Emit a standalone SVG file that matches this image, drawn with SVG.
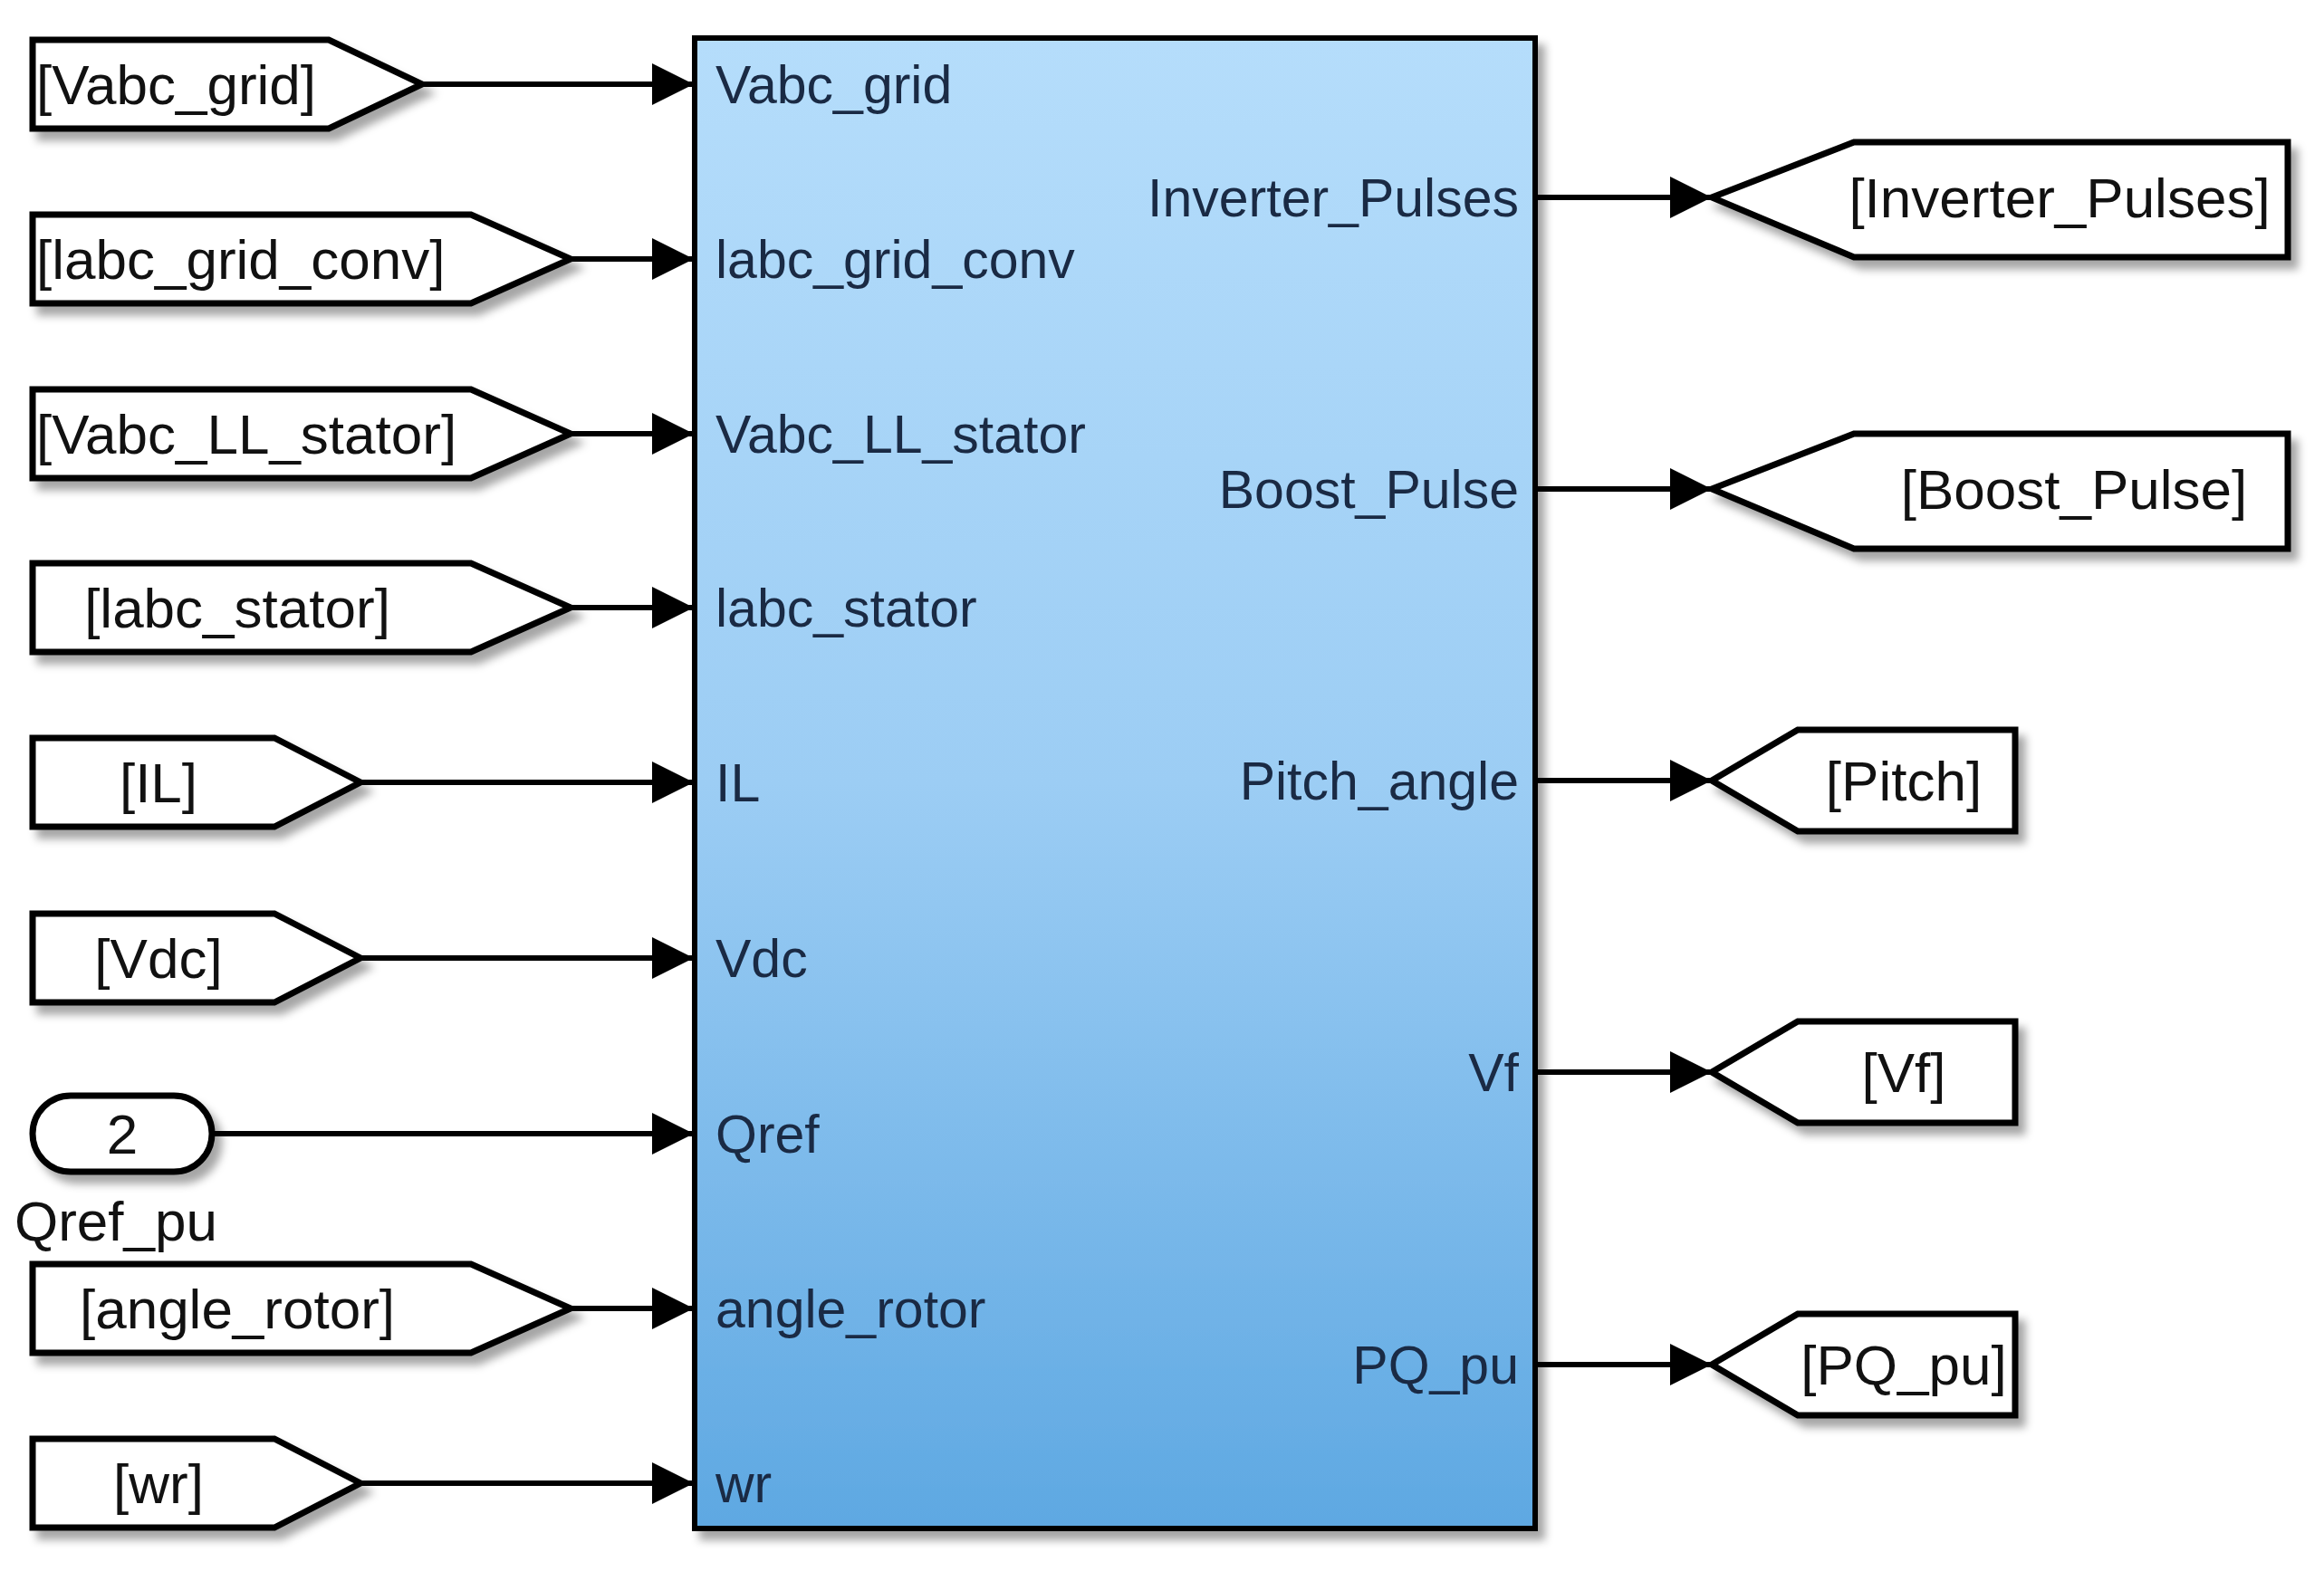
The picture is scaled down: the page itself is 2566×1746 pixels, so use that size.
<svg xmlns="http://www.w3.org/2000/svg" width="2566" height="1746" viewBox="0 0 2566 1746">
<defs>
<linearGradient id="bg" x1="0" y1="0" x2="0" y2="1"><stop offset="0" stop-color="#b5ddfb"/><stop offset="0.5" stop-color="#9ccdf4"/><stop offset="1" stop-color="#5ea8e2"/></linearGradient>
<filter id="sh" x="-10%" y="-10%" width="130%" height="140%"><feDropShadow dx="8" dy="10" stdDeviation="5" flood-color="#000" flood-opacity="0.35"/></filter>
<marker id="ar" viewBox="0 0 10 10" refX="10" refY="5" markerWidth="46" markerHeight="50" markerUnits="userSpaceOnUse" orient="auto"><path d="M0,0 L10,5 L0,10 z" fill="#000"/></marker>
</defs>
<style>
.tag{fill:#fff;stroke:#000;stroke-width:7;filter:url(#sh)}
.tt{font-family:"Liberation Sans",Arial,sans-serif;font-size:62px;fill:#111}
.pl{font-family:"Liberation Sans",Arial,sans-serif;font-size:59px;fill:#1a2a44}
.ln{stroke:#000;stroke-width:6;fill:none;marker-end:url(#ar)}
</style>
<rect width="2566" height="1746" fill="#fff"/>
<g id="block">
<rect x="767" y="42" width="928" height="1646" fill="url(#bg)" stroke="#000" stroke-width="6" filter="url(#sh)"/>
<text class="pl" x="790" y="114">Vabc_grid</text>
<text class="pl" x="790" y="307">labc_grid_conv</text>
<text class="pl" x="790" y="500">Vabc_LL_stator</text>
<text class="pl" x="790" y="692">labc_stator</text>
<text class="pl" x="790" y="885">IL</text>
<text class="pl" x="790" y="1079">Vdc</text>
<text class="pl" x="790" y="1273">Qref</text>
<text class="pl" x="790" y="1466">angle_rotor</text>
<text class="pl" x="790" y="1659">wr</text>
<g text-anchor="end">
<text class="pl" x="1677" y="239">Inverter_Pulses</text>
<text class="pl" x="1677" y="561">Boost_Pulse</text>
<text class="pl" x="1677" y="883">Pitch_angle</text>
<text class="pl" x="1677" y="1205">Vf</text>
<text class="pl" x="1677" y="1528">PQ_pu</text>
</g>
</g>
<g id="in1"><path class="tag" d="M36,44 H363 L466,93 L363,142 H36 z"/><text class="tt" x="40" y="115">[Vabc_grid]</text></g>
<g id="in2"><path class="tag" d="M36,237 H520 L630,286 L520,335 H36 z"/><text class="tt" x="40" y="308">[labc_grid_conv]</text></g>
<g id="in3"><path class="tag" d="M36,430 H520 L630,479 L520,528 H36 z"/><text class="tt" x="40" y="501">[Vabc_LL_stator]</text></g>
<g id="in4"><path class="tag" d="M36,622 H520 L630,671 L520,720 H36 z"/><text class="tt" x="262" y="693" text-anchor="middle">[labc_stator]</text></g>
<g id="in5"><path class="tag" d="M36,815 H303 L398,864 L303,913 H36 z"/><text class="tt" x="175" y="886" text-anchor="middle">[IL]</text></g>
<g id="in6"><path class="tag" d="M36,1009 H303 L398,1058 L303,1107 H36 z"/><text class="tt" x="175" y="1080" text-anchor="middle">[Vdc]</text></g>
<g id="in7"><rect class="tag" x="36" y="1210" width="198" height="84" rx="42"/><text class="tt" x="135" y="1274" text-anchor="middle">2</text><text class="tt" x="16" y="1370">Qref_pu</text></g>
<g id="in8"><path class="tag" d="M36,1396 H520 L630,1445 L520,1494 H36 z"/><text class="tt" x="262" y="1467" text-anchor="middle">[angle_rotor]</text></g>
<g id="in9"><path class="tag" d="M36,1589 H303 L398,1638 L303,1687 H36 z"/><text class="tt" x="175" y="1660" text-anchor="middle">[wr]</text></g>
<g id="out1"><path class="tag" d="M1890,218 L2047,157 H2526 V284 H2047 z"/><text class="tt" x="2274" y="240" text-anchor="middle">[Inverter_Pulses]</text></g>
<g id="out2"><path class="tag" d="M1890,540 L2047,479 H2526 V606 H2047 z"/><text class="tt" x="2290" y="562" text-anchor="middle">[Boost_Pulse]</text></g>
<g id="out3"><path class="tag" d="M1890,862 L1985,806 H2225 V918 H1985 z"/><text class="tt" x="2102" y="884" text-anchor="middle">[Pitch]</text></g>
<g id="out4"><path class="tag" d="M1890,1184 L1985,1128 H2225 V1240 H1985 z"/><text class="tt" x="2102" y="1206" text-anchor="middle">[Vf]</text></g>
<g id="out5"><path class="tag" d="M1890,1507 L1985,1451 H2225 V1563 H1985 z"/><text class="tt" x="2102" y="1529" text-anchor="middle">[PQ_pu]</text></g>
<g id="connectors">
<path class="ln" d="M466,93 H766"/>
<path class="ln" d="M630,286 H766"/>
<path class="ln" d="M630,479 H766"/>
<path class="ln" d="M630,671 H766"/>
<path class="ln" d="M398,864 H766"/>
<path class="ln" d="M398,1058 H766"/>
<path class="ln" d="M234,1252 H766"/>
<path class="ln" d="M630,1445 H766"/>
<path class="ln" d="M398,1638 H766"/>
<path class="ln" d="M1698,218 H1890"/>
<path class="ln" d="M1698,540 H1890"/>
<path class="ln" d="M1698,862 H1890"/>
<path class="ln" d="M1698,1184 H1890"/>
<path class="ln" d="M1698,1507 H1890"/>
</g>
</svg>
